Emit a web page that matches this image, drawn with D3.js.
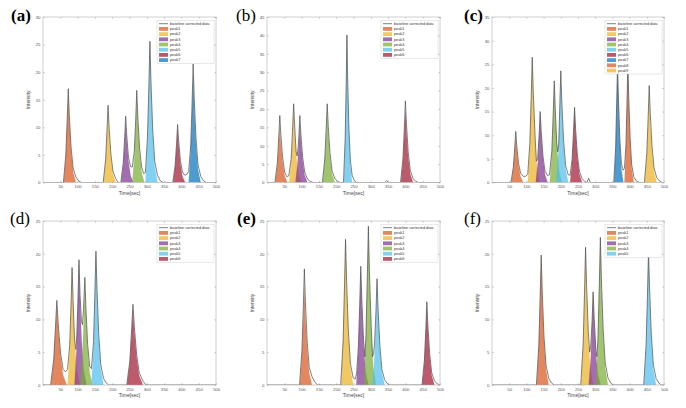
<!DOCTYPE html>
<html><head><meta charset="utf-8">
<script src="https://cdn.jsdelivr.net/npm/d3@7"></script>
<style>body{margin:0;background:#fff} svg{display:block}</style>
</head><body>
<script>
const panelLabels = ["(a)","(b)","(c)","(d)","(e)","(f)"];
const panelBold = [true,false,true,false,true,false];
const yMaxes = [30,45,35,25,25,25];
const xTickValues = [50,100,150,200,250,300,350,400,450,500];
const aYTicks = [0,5,10,15,20,25,30];
const bYTicks = [0,5,10,15,20,25,30,35,40,45];
const cYTicks = [0,5,10,15,20,25,30,35];
const dYTicks = [0,5,10,15,20,25];
const eYTicks = [0,5,10,15,20,25];
const fYTicks = [0,5,10,15,20,25];
const peakNames = ["peak1","peak2","peak3","peak4","peak5","peak6","peak7","peak8","peak9"];
const peakColors = ["#D95319","#EDB120","#7E2F8E","#77AC30","#4DBEEE","#A2142F","#0072BD"];
const lineLabel = "baseline corrected data";
const xLabel = "Time[sec]";
const yLabel = "Intensity";

// (a)
const aPeaks = [
 [[60,0],[66,4.7],[70,10.7],[73,15.8],[76,11.1],[81,5.7],[87,1.9],[95,0]],
 [[175,0],[181,3.8],[185,8.6],[188,12.7],[191,8.9],[196,4.6],[202,1.5],[210,0]],
 [[226,0],[232,3.2],[236,7.3],[239,10.7],[242,7.5],[247,3.9],[253,1.3],[261,0]],
 [[258,0],[264,4.7],[268,10.5],[271,15.5],[274,10.9],[279,5.6],[285,1.9],[293,0]],
 [[296,0],[302,7.4],[306,16.7],[309,24.5],[312,17.2],[317,8.8],[323,2.9],[331,0]],
 [[376,0],[382,2.9],[386,6.5],[389,9.5],[392,6.7],[397,3.4],[403,1.1],[411,0]],
 [[421,0],[427,5.9],[431,13.3],[434,19.5],[437,13.7],[442,7.0],[448,2.3],[456,0]]
];
const aLine = [[0,0],[59,0],[66,5.1],[70,11.6],[73,17.0],[76,12.2],[81,6.5],[87,2.6],[95,1.0],[103,0.3],[111,0],
 [174,0],[181,4.2],[185,9.5],[188,14.0],[191,10.1],[196,5.3],[202,2.1],[210,0.7],[218,0],
 [225,0],[232,3.6],[236,8.2],[239,12.0],[242,8.6],[247,4.6],[253,2.9],[258,2.8],[264,5.8],[268,11.5],[271,16.7],[274,12.0],[279,6.3],[285,2.8],[291,1.6],[296,1.8],[302,8.4],[306,17.6],[309,25.6],[312,18.4],[317,9.7],[323,3.8],[331,1.3],[339,0.3],[347,0],
 [375,0],[382,3.2],[386,7.1],[389,10.5],[392,7.6],[397,4.0],[403,1.9],[410,1.3],[416,1.5],[421,2.0],[427,6.8],[431,14.6],[434,21.5],[437,15.5],[442,8.2],[448,3.2],[456,1.1],[464,0.3],[472,0],[500,0]];

// (b)
const bPeaks = [
 [[24,0],[30,4.6],[34,10.4],[37,15.3],[40,10.7],[45,5.5],[51,1.8],[59,0]],
 [[64,0],[70,5.8],[74,13.1],[77,19.3],[80,13.5],[85,6.9],[91,2.3],[99,0]],
 [[82,0],[88,4.9],[92,11.0],[95,16.2],[98,11.3],[103,5.8],[109,1.9],[117,0]],
 [[161,0],[167,5.8],[171,13.1],[174,19.3],[177,13.5],[182,6.9],[188,2.3],[196,0]],
 [[222,0],[226,11.6],[229,26.4],[231,38.8],[233,27.2],[236.5,14.0],[241,4.7],[246,0]],
 [[387,0],[393,5.8],[397,13.1],[400,19.3],[403,13.5],[408,6.9],[414,2.3],[422,0]]
];
const bLine = [[0,0],[23,0],[30,5.5],[34,12.4],[37,18.2],[40,13.1],[45,6.9],[51,2.8],[57,1.6],[63,1.8],[70,6.6],[74,14.6],[77,21.4],[80,15.4],[84,8.5],[87,7.2],[90,9.5],[92,12.4],[95,18.2],[98,13.1],[103,6.9],[109,2.8],[117,0.9],[125,0.3],[133,0],
 [160,0],[167,6.4],[171,14.6],[174,21.4],[177,15.4],[182,8.1],[188,3.2],[196,1.1],[204,0.3],[212,0],
 [221,0],[226,12.0],[229,27.3],[231,40.1],[233,28.9],[236.5,15.2],[241,6.0],[246,2.0],[252,0.6],[258,0],
 [340,0],[346,0.5],[352,0],
 [386,0],[393,6.7],[397,15.1],[400,22.2],[403,16.0],[408,8.4],[414,3.3],[422,1.1],[430,0.3],[438,0],[500,0]];

// (c)
const cPeaks = [
 [[56,0],[62,2.9],[66,6.6],[69,9.7],[72,6.8],[77,3.5],[83,1.2],[91,0]],
 [[104,0],[110,7.6],[114,17.2],[117,25.3],[120,17.7],[125,9.1],[131,3.0],[139,0]],
 [[127,0],[133,4.3],[137,9.7],[140,14.3],[143,10.0],[148,5.1],[154,1.7],[162,0]],
 [[168,0],[174,6.2],[178,13.9],[181,20.5],[184,14.4],[189,7.4],[195,2.5],[203,0]],
 [[187,0],[193,6.7],[197,15.2],[200,22.4],[203,15.7],[208,8.1],[214,2.7],[222,0]],
 [[227,0],[233,4.5],[237,10.2],[240,15.0],[243,10.5],[248,5.4],[254,1.8],[262,0]],
 [[355,0],[359.5,7.2],[362.5,16.3],[365,24],[367.5,16.8],[371.5,8.6],[376,2.9],[382,0]],
 [[385,0],[389.5,7.2],[392.5,16.3],[395,24],[397.5,16.8],[401.5,8.6],[406,2.9],[412,0]],
 [[444,0],[450,5.6],[454,12.6],[457,18.6],[460,13.0],[465,6.7],[471,2.2],[479,0]]
];
const cLine = [[0,0],[55,0],[62,3.2],[66,7.3],[69,10.8],[72,7.8],[77,4.1],[83,2.0],[91,1.3],[98,1.3],[104,1.8],[110,8.3],[114,18.0],[117,26.5],[120,19.1],[125,10.1],[129,4.5],[133,5.2],[137,10.2],[140,15.0],[143,10.8],[148,5.7],[154,2.4],[161,1.5],[167,1.6],[174,6.7],[178,14.6],[181,21.5],[184,15.5],[188,8.5],[191,6.5],[194,8],[197,16.0],[200,23.6],[203,17.0],[208,9.0],[214,3.6],[221,1.7],[227,1.5],[233,5.0],[237,10.8],[240,15.9],[243,11.4],[248,6.0],[254,2.4],[262,0.8],[270,0.2],[276,0],[281,0.9],[286,0],
 [354,0],[359.5,7.5],[362.5,17.0],[365,25],[367.5,18.0],[371.5,9.5],[376,4.0],[381,2.6],[385,3.0],[389.5,8.0],[392.5,17.0],[395,25],[397.5,18.0],[401.5,9.5],[406,3.8],[412,1.2],[420,0.3],[428,0],
 [443,0],[450,6.2],[454,13.9],[457,20.5],[460,14.8],[465,7.8],[471,3.1],[479,1.0],[487,0.3],[495,0],[500,0]];

// (d)
const dPeaks = [
 [[23,0],[31,3.7],[36,8.3],[40,12.2],[44,8.5],[50.5,4.4],[58,1.5],[69,0]],
 [[71,0],[77,5.2],[81,11.7],[84,17.2],[87,12.0],[92,6.2],[98,2.1],[106,0]],
 [[91,0],[97,5.5],[101,12.4],[104,18.3],[107,12.8],[112,6.6],[118,2.2],[126,0]],
 [[108,0],[114,4.7],[118,10.7],[121,15.7],[124,11.0],[129,5.7],[135,1.9],[143,0]],
 [[140,0],[146,5.9],[150,13.5],[153,19.8],[156,13.9],[161,7.1],[167,2.4],[175,0]],
 [[243,0],[251,3.4],[256,7.8],[260,11.4],[264,8.0],[270.5,4.1],[278,1.4],[289,0]]
];
const dLine = [[0,0],[22,0],[31,3.9],[36,8.8],[40,12.9],[44,9.3],[50.5,4.9],[58,2.4],[65,2.0],[71,2.4],[77,6.0],[81,12.2],[84,17.9],[87,12.9],[91,7.0],[95,5.4],[98,8.0],[101,13.0],[104,19.1],[107,13.8],[111,9.8],[114,9.2],[117,11.5],[121,16.4],[124,11.8],[129,6.2],[135,2.8],[140,2.5],[146,6.6],[150,14.1],[153,20.4],[156,14.7],[161,7.8],[167,3.1],[175,1.0],[183,0.3],[190,0],
 [242,0],[251,3.7],[256,8.4],[260,12.3],[264,8.9],[270.5,4.7],[278,1.9],[289,0.6],[298,0],[500,0]];

// (e)
const ePeaks = [
 [[95,0],[101,4.5],[105,10.1],[108,14.9],[111,10.4],[116,5.4],[122,1.8],[130,0]],
 [[214,0],[220,6.5],[224,14.7],[227,21.6],[230,15.1],[235,7.8],[241,2.6],[249,0]],
 [[258,0],[264,5.2],[268,11.7],[271,17.2],[274,12.0],[279,6.2],[285,2.1],[293,0]],
 [[280,0],[286,7.0],[290,15.8],[293,23.3],[296,16.3],[301,8.4],[307,2.8],[315,0]],
 [[305,0],[311,4.7],[315,10.5],[318,15.5],[321,10.9],[326,5.6],[332,1.9],[340,0]],
 [[449,0],[455,3.6],[459,8.1],[462,11.9],[465,8.3],[470,4.3],[476,1.4],[484,0]]
];
const eLine = [[0,0],[94,0],[101,5.3],[105,12.0],[108,17.7],[111,12.7],[116,6.7],[122,2.7],[130,1.3],[138,0.5],[146,0],
 [213,0],[220,6.7],[224,15.1],[227,22.2],[230,16.0],[235,8.4],[241,3.3],[249,1.1],[255,0.9],[259,1.8],[264,5.8],[268,12.3],[271,18.1],[274,13.0],[279,6.9],[283,4.3],[286,7.5],[290,16.5],[293,24.2],[296,17.4],[301,9.2],[305,4.3],[308,4.8],[311,6.5],[315,11.3],[318,16.2],[321,11.7],[326,6.2],[332,2.4],[340,0.8],[348,0.2],[355,0],
 [448,0],[455,3.8],[459,8.6],[462,12.7],[465,9.1],[470,4.8],[476,1.9],[484,0.6],[492,0.2],[500,0]];

// (f)
const fPeaks = [
 [[130,0],[136,5.6],[140,12.8],[143,18.8],[146,13.2],[151,6.8],[157,2.3],[165,0]],
 [[259,0],[265,6.0],[269,13.6],[272,20],[275,14.0],[280,7.2],[286,2.4],[294,0]],
 [[281,0],[287,4.1],[291,9.3],[294,13.7],[297,9.6],[302,4.9],[308,1.6],[316,0]],
 [[302,0],[308,6.5],[312,14.7],[315,21.6],[318,15.1],[323,7.8],[329,2.6],[337,0]],
 [[442,0],[448,6.0],[452,13.6],[455,20],[458,14.0],[463,7.2],[469,2.4],[477,0]]
];
const fLine = [[0,0],[129,0],[136,5.9],[140,13.5],[143,19.8],[146,14.3],[151,7.5],[157,3.0],[165,1.0],[173,0.3],[181,0],
 [258,0],[265,6.3],[269,14.3],[272,21.0],[275,15.1],[280,8.0],[284,5.0],[287,6.0],[291,9.8],[294,14.2],[297,10.2],[302,5.4],[305,4.3],[308,7.0],[312,15.3],[315,22.5],[318,16.2],[323,8.6],[329,3.4],[337,1.1],[345,0.3],[352,0],
 [441,0],[448,6.2],[452,13.9],[455,20.5],[458,14.8],[463,7.8],[469,3.1],[477,1.0],[485,0.3],[493,0],[500,0]];

const panelPeaks = [aPeaks,bPeaks,cPeaks,dPeaks,ePeaks,fPeaks];
const panelLines = [aLine,bLine,cLine,dLine,eLine,fLine];
const panelYTicks = [aYTicks,bYTicks,cYTicks,dYTicks,eYTicks,fYTicks];

const W = 686, H = 408;
const cols = [[43,216],[267,440],[492,664]];
const rowsY = [[17,182.5],[221,385]];
const labelPos = [[11,21],[236,21],[464,21],[10,224],[237,224],[464,224]];
const fillOpacity = 0.7;
const fontSans = "'Liberation Sans', Arial, sans-serif";
const fontSerif = "'Liberation Serif', 'Times New Roman', serif";

const svg = d3.select("body").append("svg").attr("width",W).attr("height",H);
svg.append("rect").attr("width",W).attr("height",H).attr("fill","#fff");

panelPeaks.forEach((peaks, i) => {
  const [x0,x1] = cols[i%3];
  const [y0,y1] = rowsY[Math.floor(i/3)];
  const x = d3.scaleLinear().domain([0,500]).range([x0,x1]);
  const y = d3.scaleLinear().domain([0,yMaxes[i]]).range([y1,y0]);
  const g = svg.append("g");
  const clipId = "clip"+i;
  g.append("clipPath").attr("id",clipId).append("rect")
    .attr("x",x0).attr("y",y0).attr("width",x1-x0).attr("height",y1-y0);

  const styleTicks = a => {
    a.select(".domain").remove();
    a.selectAll("line").attr("stroke","#999").attr("stroke-width",0.5);
    a.selectAll("text").attr("font-size","4.3px").attr("font-family",fontSans).attr("fill","#555");
  };
  g.append("g").attr("transform",`translate(0,${y1})`)
    .call(d3.axisBottom(x).tickValues(xTickValues).tickSize(-1.8).tickPadding(2.5).tickFormat(d3.format("d")))
    .call(styleTicks);
  g.append("g").attr("transform",`translate(${x0},0)`)
    .call(d3.axisLeft(y).tickValues(panelYTicks[i]).tickSize(-1.8).tickPadding(2.5).tickFormat(d3.format("d")))
    .call(styleTicks);
  g.append("g").attr("transform",`translate(0,${y0})`)
    .call(d3.axisTop(x).tickValues(xTickValues).tickSize(-1.8).tickFormat(""))
    .call(styleTicks);
  g.append("g").attr("transform",`translate(${x1},0)`)
    .call(d3.axisRight(y).tickValues(panelYTicks[i]).tickSize(-1.8).tickFormat(""))
    .call(styleTicks);

  const plot = g.append("g").attr("clip-path",`url(#${clipId})`);
  const area = d3.area().x(d=>x(d[0])).y0(y(0)).y1(d=>y(d[1]));
  peaks.forEach((pk, k) => {
    const col = peakColors[k%peakColors.length];
    plot.append("path").attr("d",area(pk))
      .attr("fill",col).attr("fill-opacity",fillOpacity)
      .attr("stroke",col).attr("stroke-opacity",0.3).attr("stroke-width",0.3);
  });
  const line = d3.line().x(d=>x(d[0])).y(d=>y(d[1]));
  plot.append("path").attr("d",line(panelLines[i]))
    .attr("fill","none").attr("stroke","#4a4a4a").attr("stroke-width",0.7);

  g.append("rect").attr("x",x0).attr("y",y0).attr("width",x1-x0).attr("height",y1-y0)
    .attr("fill","none").attr("stroke","#b0b0b0").attr("stroke-width",0.6);

  g.append("text").attr("x",(x0+x1)/2).attr("y",y1+12).attr("text-anchor","middle")
    .attr("font-size","5px").attr("font-family",fontSans).attr("fill","#444").text(xLabel);
  g.append("text").attr("transform",`translate(${x0-13},${(y0+y1)/2}) rotate(-90)`).attr("text-anchor","middle")
    .attr("font-size","5px").attr("font-family",fontSans).attr("fill","#444").text(yLabel);

  // legend
  const nRows = peaks.length + 1;
  const rowH = 5.2;
  const lw = 57, lx = x1 - lw - 2, ly = y0 + 3.5;
  const lg = g.append("g");
  lg.append("rect").attr("x",lx).attr("y",ly).attr("width",lw).attr("height",nRows*rowH+1.5)
    .attr("fill","#fff").attr("stroke","#c8c8c8").attr("stroke-width",0.4);
  const cy0 = ly + 3.2;
  lg.append("line").attr("x1",lx+2).attr("x2",lx+11).attr("y1",cy0).attr("y2",cy0)
    .attr("stroke","#4a4a4a").attr("stroke-width",0.7);
  lg.append("text").attr("x",lx+13).attr("y",cy0+1.3).attr("font-size","3.8px")
    .attr("font-family",fontSans).attr("fill","#333").text(lineLabel);
  peaks.forEach((pk,k) => {
    const cy = cy0 + (k+1)*rowH;
    lg.append("rect").attr("x",lx+2).attr("y",cy-1.9).attr("width",9).attr("height",3.8)
      .attr("fill",peakColors[k%peakColors.length]).attr("fill-opacity",fillOpacity);
    lg.append("text").attr("x",lx+13).attr("y",cy+1.3).attr("font-size","3.8px")
      .attr("font-family",fontSans).attr("fill","#333").text(peakNames[k]);
  });

  svg.append("text").attr("x",labelPos[i][0]).attr("y",labelPos[i][1])
    .attr("font-family",fontSerif).attr("font-size","17px")
    .attr("font-weight",panelBold[i]?"bold":"normal").attr("fill","#000").text(panelLabels[i]);
});
</script>
</body></html>
